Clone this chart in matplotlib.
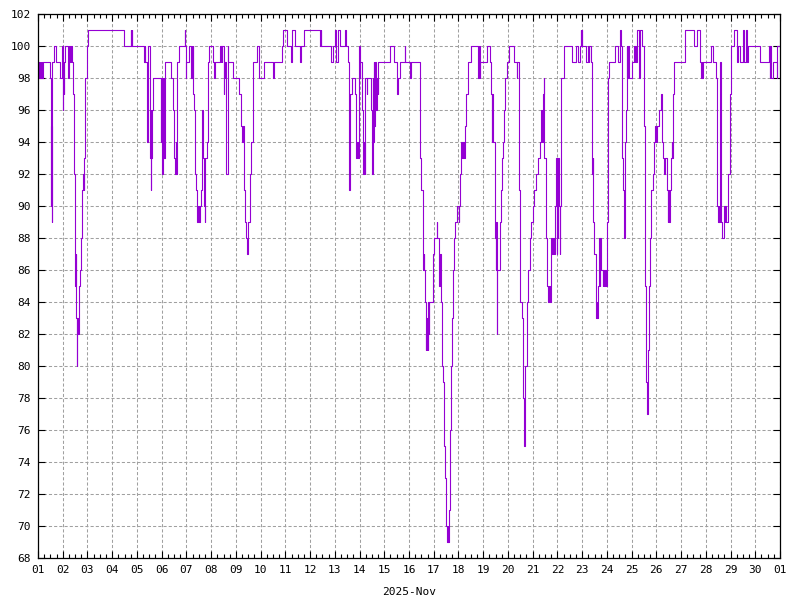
import numpy as np
import pandas as pd
import matplotlib
matplotlib.use("Agg")
import matplotlib.pyplot as plt
import matplotlib.dates as mdates

# hours since 2025-11-01 00:00 and the reading that starts at that hour
hours = [
    0, 1, 1.5, 2, 2.5, 3, 3.5, 4, 4.5, 12, 12.5, 12.8, 13, 13.3, 13.6, 15.5, 17.5, 21.7, 23.3,
    24.3, 24.6, 24.9, 25.2, 26.5, 29, 30, 31, 32.5, 33.3, 34.3, 35, 35.3, 35.9, 36.3, 36.6,
    36.9, 37.5, 37.8, 38.2, 38.8, 39.8, 40.8, 42.1, 43, 44, 44.5, 45, 46, 47.6, 48.5, 83.5,
    90.3, 90.6, 91, 91.5, 102.9, 103.5, 104.2, 105.8, 106.1, 106.5, 106.8, 107, 108.5, 108.8,
    109.2, 109.6, 110, 110.5, 111.5, 119, 119.5, 120, 120.5, 121, 121.5, 122, 122.5, 123,
    123.3, 128.8, 131, 131.7, 132.3, 133, 133.5, 134, 134.9, 136.5, 142.3, 143, 143.6, 144,
    146.9, 148.8, 149.2, 149.5, 150, 150.4, 151.1, 152, 153, 154.3, 155.3, 156.2, 157.5,
    158.5, 159.5, 160, 160.8, 161.8, 162.4, 164, 165, 166, 169.8, 171, 171.3, 177, 177.5,
    178, 178.5, 179, 180, 180.5, 181, 181.5, 182.5, 184, 184.4, 189, 195, 197.3, 198, 198.6,
    200, 201.2, 202.2, 202.8, 203.8, 205.4, 206, 207, 208.3, 209, 212.5, 214.2, 219, 227.7,
    229.4, 236.5, 237.6,
    241.6, 245.8, 246.2, 246.5, 249.7, 254.6, 255, 258.4, 274, 274.5, 275, 284.3, 286.3,
    288.5, 288.8, 291.1, 292.7, 298.2, 299, 300.5, 301.5, 302.1, 302.5, 303, 304.7, 307.9,
    308.9, 309.5, 310.2, 311.2, 312, 312.5, 314, 315, 316.5, 317, 317.5, 319, 319.5, 323,
    324, 325, 325.5, 326, 326.5, 327, 328, 328.5, 329.5, 330, 342, 345.8, 348.4, 349, 351.6,
    355.8, 356.5, 361.3, 361.7, 371, 372, 373.3, 374, 374.5, 375, 375.9, 376.2, 376.6, 377.2,
    377.5, 378, 378.5, 379, 379.5, 383.3, 384.6, 386.9, 387.5, 388.8, 389.3, 390, 391.1, 392,
    393.3, 394.3, 395, 395.4, 395.9, 397, 397.5, 398, 398.8, 400.1, 401.1, 401.7, 402.7, 404,
    405, 406.3, 408.2, 408.8, 409.8, 410.8, 411.5, 412.5, 413.5, 414.7, 415.7, 417, 420.5,
    427.3, 428, 428.5, 429, 435.7, 439, 440, 440.5, 441, 441.5, 443, 443.8, 444.3, 444.8,
    445.2, 445.6, 448, 449.3, 450.6, 451.2, 452.5, 453.5, 454.8, 456.7, 461.6, 464.8, 465.2,
    466.5, 467.4, 468, 469.7, 470.7, 471, 472, 472.9, 474.2, 475.5,
    477, 478.5, 480, 481.5, 483, 485, 487, 488, 489, 490, 490.7, 491.3, 492.5, 493.5, 494.5,
    495.5, 496.5, 497.5, 498.5, 499.5, 500.5, 501.5, 502.5, 503, 503.5, 504, 504.5, 505,
    505.8, 506.5, 507, 507.5, 510.7,
    517.8, 521.7, 524.3, 525.9, 526.5, 527, 527.5, 528.2, 531.7, 534, 534.5, 535, 536.3,
    537.2, 537.8, 538.3, 538.9, 539.8, 541.1, 541.6, 542.2, 542.7, 543.2, 544.7, 545.2,
    545.7, 546.3, 547.9, 548.5, 549.2, 550, 550.8, 551.8, 552.8, 553.4, 554.4, 559.9, 563.1,
    565.1, 565.7, 567, 568, 568.5, 569, 570, 570.6, 571.2, 572, 572.7, 573.2, 576.7, 578.3,
    579, 579.5, 580.3, 581.6, 583.5, 583.8, 586.4, 588.4, 589.4, 590.3, 591.3, 591.6, 592,
    592.3, 593.2, 594.2, 595.2, 596.5, 598.1, 598.8, 599.5, 600.4, 603, 604.6, 605.5, 606.8,
    607.5, 608.5, 610.1, 611.1, 611.8, 612.5, 613.3, 614.3, 615, 615.4, 615.9, 616.6, 617.5,
    628.2, 636.9, 639.2, 642.4, 643.4, 644, 644.6, 645.2, 652.8, 655.3, 657.9, 659.2, 660.2,
    660.7, 661.2, 661.8, 663.1, 664.1, 666, 666.5, 667, 667.5, 668.3, 669.9, 671.5, 672.2,
    675.4, 678, 679.6, 681.3, 683.8, 685.5, 687.1, 687.5, 688.7, 700.7, 709.7, 710.2, 710.6,
    711, 713.6, 716.9, 717.5, 720,
]

values = [
    99, 98, 99, 98, 99, 98, 99, 98, 99, 98, 97, 90, 95, 89, 99, 100, 99, 98, 100,
    96, 99, 97, 99, 100, 98, 100, 99, 100, 99, 97, 96, 92, 86, 85, 87,
    83, 82, 80, 83, 82, 85, 86, 88, 91, 92, 91, 93, 98, 100, 101, 100,
    101, 100, 101, 100, 99, 100, 99, 98, 94, 98, 94, 100, 97, 93,
    96, 91, 93, 96, 98, 94, 98, 93, 92, 98, 93, 98, 93, 94,
    99, 98, 96, 95, 93, 92, 94, 92, 99, 100, 101, 100, 98, 99,
    100, 98, 100, 98, 100, 97, 96, 92, 91, 89, 90, 89, 90,
    91, 96, 93, 90, 89, 93, 94, 99, 100, 99, 98, 99, 100, 99,
    100, 99, 100, 97, 99, 98, 99, 92, 100, 99, 98, 97, 95, 94, 95,
    91, 89, 88, 87, 89, 91, 92, 94, 96, 99, 100, 98, 99, 98,
    99, 100, 101,
    100, 99, 100, 101, 100, 99, 100, 101, 100, 101, 100, 99, 100,
    101, 99, 101, 100, 101, 100, 99, 92, 91, 92, 97, 98, 97,
    93, 94, 93, 100, 98, 99, 96, 92, 94, 92, 98, 97, 98, 96,
    92, 98, 94, 99, 95, 99, 96, 98, 97, 99, 100, 99, 97, 98, 99,
    100, 99, 98, 99, 93, 91, 88, 86, 87, 86, 84, 81, 82, 81,
    83, 81, 84, 82, 84, 87, 88, 89, 88, 87, 85, 87, 84, 80,
    79, 75, 74, 73, 70, 69, 70, 69, 71, 76, 80, 83, 86, 88,
    89, 90, 89, 90, 92, 94, 93, 94, 93, 95, 97, 99, 100,
    98, 100, 98, 99, 100, 99, 97, 94, 97, 94, 91, 88, 86, 89,
    82, 86, 89, 91, 93, 94, 96, 98, 99, 100, 99, 98, 99,
    91, 86, 84, 83, 81, 78, 75, 80, 84, 86,
    88, 89, 90, 91, 92, 93, 94, 96, 94, 97, 98, 93, 88, 85, 84,
    85, 84, 88, 87, 88, 87, 90, 91, 93, 87, 92, 88, 93,
    90, 87, 90, 98, 100,
    99, 100, 99, 100, 101, 100, 101, 100, 99, 100, 99, 100, 99,
    93, 92, 93, 89, 87, 86, 83, 84, 83, 85, 88, 85,
    88, 86, 85, 86, 85, 86, 85, 89, 92, 98, 99, 100, 99,
    101, 100, 93, 91, 90, 88, 94, 96, 100, 98, 100, 98, 99, 100,
    99, 100, 99, 101, 98, 101, 100, 95, 85, 79, 77, 78, 80,
    81, 85, 88, 91, 92, 94, 95, 94, 95, 96, 97, 94, 93,
    92, 93, 91, 89, 91, 89, 91, 93, 94, 93, 95, 97, 99,
    101, 100, 101, 99, 98, 99, 98, 99, 100, 99, 98, 90, 89,
    90, 89, 99, 89, 88, 90, 89, 90, 89, 89, 92, 97, 100,
    101, 99, 100, 99, 101, 99, 101, 99, 100, 99, 100, 98, 100,
    98, 99, 98, 100, 100,
]

start = pd.Timestamp("2025-11-01")
times = start + pd.to_timedelta(hours, unit="h")

plt.rcParams['font.family'] = ['DejaVu Sans Mono']

fig = plt.figure(figsize=(8, 6), dpi=100)
ax = fig.add_axes([38/800, 42/600, 742/800, 544/600])

ax.step(times, values, where='post', color='#9400D3', lw=0.8)

ax.set_xlim(start, pd.Timestamp("2025-12-01"))
ax.set_ylim(68, 102)
ax.set_yticks(np.arange(68, 103, 2))

ax.xaxis.set_major_locator(mdates.DayLocator())
ax.xaxis.set_major_formatter(mdates.DateFormatter('%d'))
ax.xaxis.set_minor_locator(mdates.HourLocator(byhour=[6, 12, 18]))

ax.tick_params(which='both', direction='in', top=True, right=True, labelsize=8, width=0.8)
ax.tick_params(which='major', length=5, pad=5)
ax.tick_params(which='minor', length=3)

ax.grid(True, which='major', color='#a0a0a0', linestyle=(0, (3, 2)), lw=0.75)
for s in ax.spines.values():
    s.set_linewidth(0.9)

ax.set_xlabel('2025-Nov', fontsize=8, labelpad=9)

fig.savefig('out.png', dpi=100)
